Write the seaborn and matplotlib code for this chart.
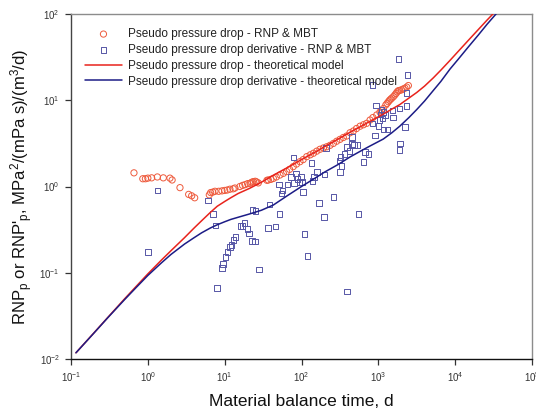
import numpy as np
import pandas as pd
import matplotlib
matplotlib.use("Agg")
import matplotlib.pyplot as plt
import seaborn as sns
from matplotlib.ticker import NullLocator

# ---------------- data ----------------
# Pseudo pressure drop - RNP & MBT (circles)
circ_x = [0.66, 0.86, 0.93, 1.0, 1.12, 1.33, 1.59, 1.94, 2.07, 2.62, 3.4, 3.72, 4.07,
          6.31, 6.57, 6.98, 7.48, 8.36, 9.23, 10.0, 10.8, 11.7, 12.9, 13.6, 15.8, 17.1,
          18.4, 19.9, 21.4, 22.5, 23.6, 25.0, 26.0, 27.4,
          35.5, 37, 40, 43, 47, 52.5, 58, 64, 70, 78, 86, 95.5, 105, 117, 130, 143, 158,
          174, 193, 213, 235, 260, 287, 317, 350, 387, 428, 473, 520, 578, 640, 705, 780,
          850, 953, 1050, 1100, 1160, 1250, 1300, 1350, 1400, 1450, 1500, 1570, 1640, 1700,
          1760, 1820, 1900, 2000, 2100, 2220, 2340, 2460]
circ_y = [1.44, 1.23, 1.23, 1.25, 1.26, 1.29, 1.26, 1.25, 1.19, 0.97, 0.81, 0.78, 0.74,
          0.80, 0.85, 0.86, 0.88, 0.88, 0.89, 0.90, 0.91, 0.93, 0.94, 0.96, 1.0, 1.03,
          1.05, 1.08, 1.09, 1.12, 1.14, 1.15, 1.13, 1.10,
          1.18, 1.19, 1.21, 1.24, 1.29, 1.36, 1.42, 1.49, 1.58, 1.70, 1.82, 1.94, 2.05,
          2.22, 2.33, 2.43, 2.57, 2.70, 2.80, 2.89, 3.0, 3.16, 3.35, 3.52, 3.70, 3.85, 4.2,
          4.4, 4.7, 5.0, 5.2, 5.4, 5.9, 6.3, 6.75, 7.3, 7.6, 8.0, 8.8, 9.2, 9.6, 10.0, 10.3,
          10.6, 11.0, 11.5, 12.0, 12.5, 12.9, 13.0, 13.2, 13.5, 13.8, 14.2, 14.8]

# Pseudo pressure drop derivative - RNP & MBT (squares)
sq_x = [1.0, 1.34, 6.03, 7.1, 7.63, 7.95, 9.18, 9.56, 10.2, 10.9, 11.7, 12.2, 13.1, 13.8,
        16.1, 17.1, 18.2, 19.7, 20.9, 22.5, 24.8, 23.1, 25.3, 28.1, 36.6, 38.1, 45.8, 51.9,
        51.3, 55, 56.9, 65.6, 72.8, 78.9, 80.5, 84.7, 89.1, 94.8, 98.8, 101, 104, 110, 119,
        135, 139, 145, 160, 170, 196, 200, 209, 262, 312, 315, 321, 331, 363, 394, 394, 424,
        451, 451, 484, 536, 553, 638, 671, 741, 845, 841, 905, 933, 1000, 1030, 1067, 1105,
        1138, 1160, 1160, 1222, 1310, 1523, 1540, 1820, 1875, 1875, 1915, 2220, 2340, 2340,
        2410]
sq_y = [0.173, 0.90, 0.69, 0.483, 0.351, 0.0668, 0.114, 0.127, 0.152, 0.173, 0.198, 0.211,
        0.241, 0.259, 0.347, 0.347, 0.377, 0.321, 0.286, 0.233, 0.229, 0.535, 0.519, 0.109,
        0.33, 0.615, 0.344, 0.483, 1.05, 0.826, 0.90, 1.06, 1.29, 2.16, 1.1, 1.41, 1.23,
        1.13, 1.29, 1.13, 0.863, 0.283, 0.157, 1.87, 1.15, 1.29, 1.47, 0.643, 0.443, 1.38,
        2.8, 0.755, 2.01, 1.47, 2.2, 1.73, 2.37, 0.0605, 2.88, 2.58, 3.76, 3.09, 3.01, 3.01,
        0.483, 1.91, 2.53, 2.38, 15.0, 5.37, 3.88, 8.65, 5.0, 5.9, 6.82, 7.85, 6.17, 7.36,
        4.6, 6.75, 4.6, 7.57, 6.3, 30.1, 8.07, 2.65, 3.16, 4.93, 8.57, 12.2, 19.6]

# Theoretical model curves
red_line_x = [0.116, 0.2, 0.3, 0.5, 0.7, 1.0, 1.5, 2.0, 3.0, 4.0, 5.0, 6.5, 8.0, 10, 12, 15,
              21, 30, 43, 65, 100, 150, 200, 300, 428, 600, 780, 1160, 1500, 1900, 2500,
              3160, 4000, 5200, 6500, 8570, 11000, 15000, 20000, 26000, 31000, 36000]
red_line_y = [0.0118, 0.0202, 0.0302, 0.050, 0.069, 0.097, 0.140, 0.180, 0.255, 0.33, 0.40,
              0.50, 0.59, 0.67, 0.74, 0.83, 0.95, 1.12, 1.35, 1.65, 2.05, 2.5, 2.9, 3.55,
              4.25, 5.0, 5.7, 6.9, 7.9, 8.9, 10.6, 12.3, 14.6, 18.2, 22.3, 29, 37, 50, 66,
              85, 100, 116]
blue_line_x = [0.116, 0.2, 0.3, 0.5, 0.7, 1.0, 1.5, 2.0, 3.0, 4.0, 5.0, 6.5, 8.0, 10, 12, 15,
               21, 30, 43, 65, 100, 150, 200, 300, 428, 600, 780, 1160, 1500, 1900, 2500,
               3160, 4000, 5200, 6500, 8570, 11000, 15000, 20000, 26000, 31000, 34000, 38000]
blue_line_y = [0.0118, 0.0201, 0.0300, 0.049, 0.067, 0.093, 0.130, 0.163, 0.215, 0.255, 0.29,
               0.33, 0.36, 0.39, 0.415, 0.44, 0.48, 0.53, 0.61, 0.78, 1.0, 1.25, 1.47, 1.8,
               2.2, 2.6, 2.95, 3.55, 4.2, 5.0, 6.3, 7.8, 9.8, 13, 16.5, 23, 30, 42, 57, 76,
               91, 100, 112]

x_ticks = [1e-1, 1e0, 1e1, 1e2, 1e3, 1e4, 1e5]
y_ticks = [1e-2, 1e-1, 1e0, 1e1, 1e2]

labels = ["Pseudo pressure drop - RNP & MBT",
          "Pseudo pressure drop derivative - RNP & MBT",
          "Pseudo pressure drop - theoretical model",
          "Pseudo pressure drop derivative - theoretical model"]

# ---------------- style ----------------
sns.set_style("ticks")
plt.rcParams["font.family"] = ["Liberation Sans", "DejaVu Sans"]
plt.rcParams["mathtext.fontset"] = "custom"
plt.rcParams["mathtext.rm"] = "Liberation Sans"
plt.rcParams["mathtext.it"] = "Liberation Sans:italic"
plt.rcParams["mathtext.default"] = "regular"

RED_LINE = "#e8231c"
RED_MARK = "#ee5a3c"
BLUE_LINE = "#1c1c86"
BLUE_MARK = "#5656a6"

fig = plt.figure(figsize=(5.36, 4.11), dpi=100)
ax = fig.add_axes([71 / 536, 1 - 359 / 411, 461 / 536, 345 / 411])

df_c = pd.DataFrame({"x": circ_x, "y": circ_y})
df_s = pd.DataFrame({"x": sq_x, "y": sq_y})
df_r = pd.DataFrame({"x": red_line_x, "y": red_line_y})
df_b = pd.DataFrame({"x": blue_line_x, "y": blue_line_y})

sns.scatterplot(data=df_c, x="x", y="y", ax=ax, marker="o", s=20,
                facecolors="none", edgecolors=RED_MARK, linewidths=0.7,
                label=labels[0], zorder=3)
sns.scatterplot(data=df_s, x="x", y="y", ax=ax, marker="s", s=16,
                facecolors="none", edgecolors=BLUE_MARK, linewidths=0.7,
                label=labels[1], zorder=3)
sns.lineplot(data=df_r, x="x", y="y", ax=ax, color=RED_LINE, lw=1.1,
             estimator=None, sort=False, label=labels[2], zorder=4)
sns.lineplot(data=df_b, x="x", y="y", ax=ax, color=BLUE_LINE, lw=1.1,
             estimator=None, sort=False, label=labels[3], zorder=4)

ax.set_xscale("log")
ax.set_yscale("log")
ax.set_xticks(x_ticks)
ax.set_yticks(y_ticks)
ax.set_xlim(0.1, 1e5)
ax.set_ylim(0.01, 100)
ax.xaxis.set_minor_locator(NullLocator())
ax.yaxis.set_minor_locator(NullLocator())

for side in ["top", "right"]:
    ax.spines[side].set_visible(True)
    ax.spines[side].set_color("#8c8c8c")
    ax.spines[side].set_linewidth(1.0)
ax.spines["left"].set_color("#444444")
ax.spines["bottom"].set_color("#111111")
ax.spines["left"].set_linewidth(1.0)
ax.spines["bottom"].set_linewidth(1.0)

ax.tick_params(axis="both", which="major", direction="out", length=4, width=0.9,
               labelsize=7, labelcolor="#333333", color="#333333", pad=4,
               top=False, right=False)

ax.set_xlabel("Material balance time, d", fontsize=12.5, labelpad=7, color="#111111")
ax.set_ylabel(r"RNP$_\mathregular{p}$ or RNP$'_\mathregular{p}$, MPa$^\mathregular{2}$/(mPa s)/(m$^\mathregular{3}$/d)",
              fontsize=12, labelpad=3, color="#111111")

leg = ax.legend(loc="upper left", bbox_to_anchor=(0.0, 1.0), borderaxespad=0,
                borderpad=1.2, frameon=False, fontsize=8.5, handlelength=3.1,
                handletextpad=0.5, labelspacing=0.32, scatterpoints=1)
for t in leg.get_texts():
    t.set_color("#222222")

fig.savefig("out.png", dpi=100)
